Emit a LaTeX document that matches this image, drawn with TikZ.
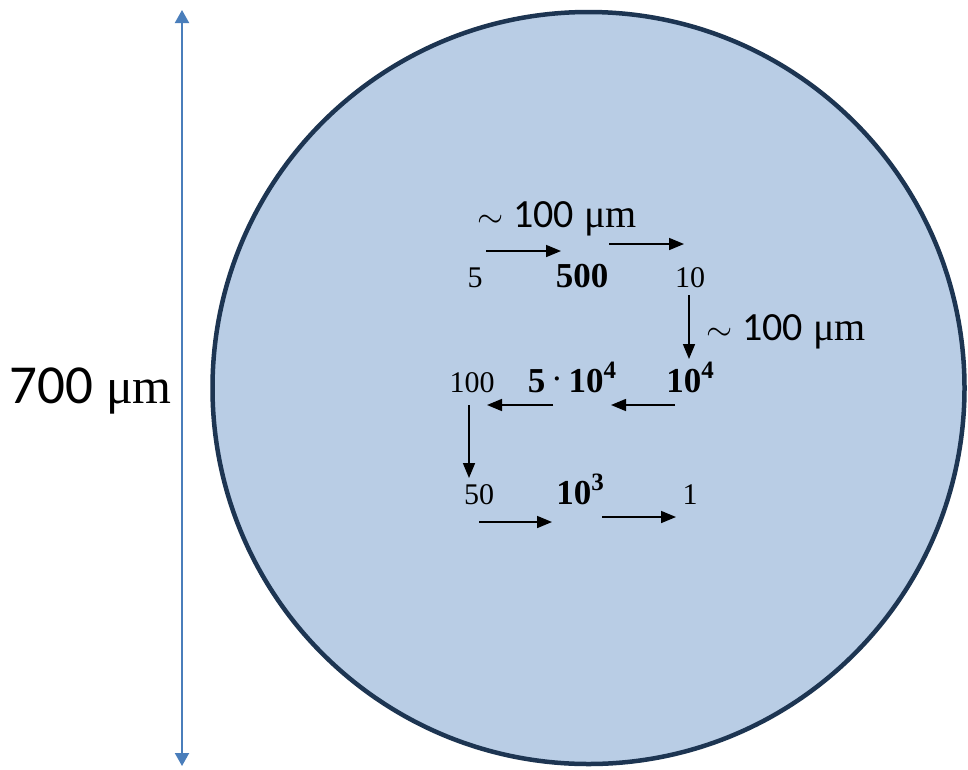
\documentclass[tikz,border=0pt]{standalone}
\usepackage{fontspec}
\setmainfont{Liberation Serif}
\newfontfamily\carl{Carlito}
\usetikzlibrary{arrows.meta}
\definecolor{cellfill}{HTML}{B9CDE5}
\definecolor{celledge}{HTML}{1D3552}
\definecolor{scaleblue}{HTML}{4A7EBB}
\tikzset{
  num/.style={anchor=base,inner sep=0pt,font=\fontsize{30}{36}\selectfont},
  bnum/.style={num,font=\fontsize{35}{40}\selectfont\bfseries},
  lab/.style={anchor=base,inner sep=0pt,font=\fontsize{40}{46}\selectfont},
  flow/.style={line width=1.6pt,-{Triangle[length=15pt,width=12pt]}},
  scalebar/.style={scaleblue,line width=2pt,{Triangle[length=13pt,width=14pt]}-{Triangle[length=13pt,width=14pt]}}
}
\newcommand{\bsup}[1]{\raisebox{0.4em}{\fontsize{25}{25}\selectfont\bfseries #1}}
\newcommand{\approxsign}{\scalebox{1.35}{$\sim$}}
\begin{document}
\begin{tikzpicture}[x=1pt,y=-1pt]
\useasboundingbox (0,0) rectangle (968,769);
\fill[white] (0,0) rectangle (968,769);
% cell
\draw[fill=cellfill,draw=celledge,line width=4.5pt] (588.5,388) circle[radius=376];
% scale bar
\coordinate (stop) at (182,10);
\coordinate (sbot) at (182,766);
\draw[scalebar] (stop) -- (sbot);
\node[anchor=base east,inner sep=0pt,font=\fontsize{50}{60}\selectfont] (scalelab) at (172,403) {{\carl\fontsize{55}{60}\selectfont 700} μm};
% numbers
\node[num] (n5) at (475,287) {5};
\node[bnum] (n500) at (582,287) {500};
\node[num] (n10) at (690,287) {10};
\node[bnum] (n1e4) at (690,392) {10\bsup{4}};
\node[bnum] (n5e4) at (572,392) {5\,{\mdseries\raisebox{0.05em}{·}}\,10\bsup{4}};
\node[num] (n100) at (472,392) {100};
\node[num] (n50) at (479,504) {50};
\node[bnum] (n1e3) at (580,504) {10\bsup{3}};
\node[num] (n1) at (690,504) {1};
% distance labels
\node[lab] (dtop) at (557,227) {\approxsign\ {\carl 100} μm};
\node[lab,anchor=base west] (dright) at (706,340) {\approxsign\ {\carl 100} μm};
% arrow end points
\coordinate (a1s) at (486,251); \coordinate (a1e) at (561,251);
\coordinate (a2s) at (609,244); \coordinate (a2e) at (684,244);
\coordinate (a3s) at (689,295); \coordinate (a3e) at (689,359);
\coordinate (a4s) at (675,405); \coordinate (a4e) at (611,405);
\coordinate (a5s) at (553,405); \coordinate (a5e) at (487,405);
\coordinate (a6s) at (469,405); \coordinate (a6e) at (469,478);
\coordinate (a7s) at (479,522); \coordinate (a7e) at (552,522);
\coordinate (a8s) at (602,517); \coordinate (a8e) at (676,517);
\draw[flow] (a1s) -- (a1e);
\draw[flow] (a2s) -- (a2e);
\draw[flow] (a3s) -- (a3e);
\draw[flow] (a4s) -- (a4e);
\draw[flow] (a5s) -- (a5e);
\draw[flow] (a6s) -- (a6e);
\draw[flow] (a7s) -- (a7e);
\draw[flow] (a8s) -- (a8e);
\end{tikzpicture}
\end{document}
